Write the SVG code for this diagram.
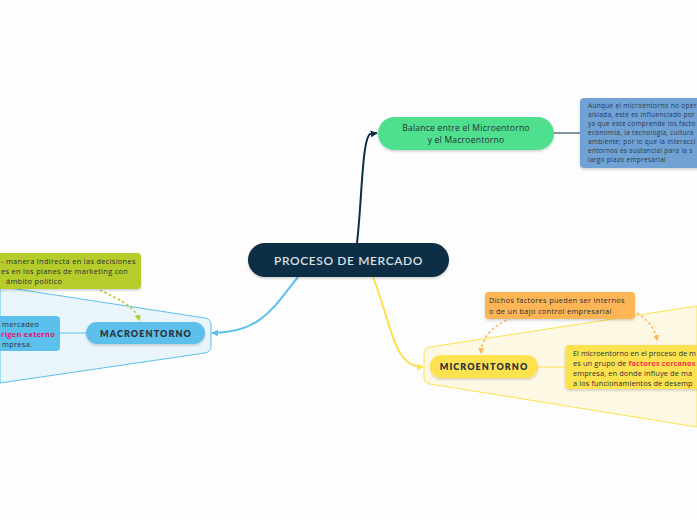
<svg xmlns="http://www.w3.org/2000/svg" width="697" height="520" viewBox="0 0 697 520">
<defs>
<style>
text{font-family:"Open Sans","Noto Sans","Liberation Sans",sans-serif;fill:#2a2f38}
.sm{font-size:7.4px;letter-spacing:0.32px}
.nt{font-size:7.4px;letter-spacing:0.12px}
.xs{font-size:6.5px;letter-spacing:0.3px;fill:#26384a}
.main{font-family:Lato,"Noto Sans",sans-serif;font-size:12px;fill:#d9e0e6;letter-spacing:0.6px;font-weight:600}
.tp{font-family:Lato,"Noto Sans",sans-serif;font-size:9px;font-weight:800;letter-spacing:1.1px;fill:#2d3440}
.mid{font-size:8.6px;letter-spacing:0.2px}
</style>
<filter id="sh" x="-10%" y="-20%" width="120%" height="150%">
<feDropShadow dx="0" dy="1.5" stdDeviation="1.2" flood-color="#000" flood-opacity="0.18"/>
</filter>
<marker id="mNavy" viewBox="0 0 10 10" refX="9" refY="5" markerUnits="userSpaceOnUse" markerWidth="7" markerHeight="7" orient="auto"><path d="M0,0 L10,5 L0,10 z" fill="#0b2e45"/></marker>
<marker id="mBlue" viewBox="0 0 10 10" refX="9" refY="5" markerUnits="userSpaceOnUse" markerWidth="7" markerHeight="7" orient="auto"><path d="M0,0 L10,5 L0,10 z" fill="#5bc0eb"/></marker>
<marker id="mYel" viewBox="0 0 10 10" refX="9" refY="5" markerUnits="userSpaceOnUse" markerWidth="7" markerHeight="7" orient="auto"><path d="M0,0 L10,5 L0,10 z" fill="#fde24f"/></marker>
<marker id="mLime" viewBox="0 0 10 10" refX="8" refY="5" markerUnits="userSpaceOnUse" markerWidth="6" markerHeight="6" orient="auto"><path d="M0,0 L10,5 L0,10 z" fill="#b5cc2a"/></marker>
<marker id="mOr" viewBox="0 0 10 10" refX="8" refY="5" markerUnits="userSpaceOnUse" markerWidth="6" markerHeight="6" orient="auto"><path d="M0,0 L10,5 L0,10 z" fill="#fdb557"/></marker>
</defs>
<rect width="697" height="520" fill="#fdfdfd"/>

<g id="boundaries">
<path d="M0,286.5 L205,318 Q211,319 211,325 L211,346 Q211,352 205,353 L0,383 Z" fill="#e9f5fb" stroke="#5bc0eb" stroke-width="1"/>
<path d="M697,306 L430,347 Q424,348 424,354 L424,377 Q424,383 430,384 L697,427 Z" fill="#fdf8e3" stroke="#fde24f" stroke-width="1"/>
</g>

<g id="connectors" fill="none">
<path d="M357,243 C 362,200 362,140 370,134 L377,133" stroke="#0b2e45" stroke-width="2" marker-end="url(#mNavy)"/>
<path d="M554,133 L580,133" stroke="#0b2e45" stroke-width="1"/>
<path d="M298,277 C 275,305 262,333 212,333" stroke="#5bc0eb" stroke-width="2" marker-end="url(#mBlue)"/>
<path d="M86,333 L60,333" stroke="#5bc0eb" stroke-width="1"/>
<path d="M373,277 C 392,325 393,367 423,367" stroke="#fde24f" stroke-width="2" marker-end="url(#mYel)"/>
<path d="M538,367 L565,367" stroke="#fde24f" stroke-width="1"/>
<path d="M100,290 C 115,298 135,305 139,320" stroke="#b5cc2a" stroke-width="1.6" stroke-dasharray="2.5,2.5" marker-end="url(#mLime)"/>
<path d="M511,318 C 495,325 482,335 481,353" stroke="#fdb557" stroke-width="1.6" stroke-dasharray="2.5,2.5" marker-end="url(#mOr)"/>
<path d="M637,313 C 648,320 655,328 657,340" stroke="#fdb557" stroke-width="1.6" stroke-dasharray="2.5,2.5" marker-end="url(#mOr)"/>
</g>

<g id="central">
<rect x="248" y="243" width="201" height="34" rx="17" fill="#0b2e45" filter="url(#sh)"/>
<text x="348.5" y="264.5" text-anchor="middle" class="main">PROCESO DE MERCADO</text>
</g>

<g id="balance">
<rect x="378" y="117" width="176" height="33" rx="16.5" fill="#4fe08f" filter="url(#sh)"/>
<text x="466" y="131" text-anchor="middle" class="mid">Balance entre el Microentorno</text>
<text x="466" y="143" text-anchor="middle" class="mid">y el Macroentorno</text>
</g>

<g id="balance-note">
<rect x="580" y="98" width="130" height="70" rx="4" fill="#6fa2d6" filter="url(#sh)"/>
<text class="xs" x="588" y="108">Aunque el microentorno no oper</text>
<text class="xs" x="588" y="117">aislada, este es influenciado por</text>
<text class="xs" x="588" y="126">ya que este comprende los facto</text>
<text class="xs" x="588" y="135">economía, la tecnología, cultura</text>
<text class="xs" x="588" y="144">ambiente; por lo que la interacci</text>
<text class="xs" x="588" y="153">entornos es sustancial para la s</text>
<text class="xs" x="588" y="162">largo plazo empresarial</text>
</g>

<g id="macro">
<rect x="86" y="322" width="119" height="22" rx="11" fill="#5bc0eb" filter="url(#sh)"/>
<text x="146" y="336.5" text-anchor="middle" class="tp">MACROENTORNO</text>
</g>

<g id="macro-note">
<rect x="-10" y="316" width="70" height="35" rx="4" fill="#5bc0eb"/>
<text class="sm" x="2" y="327">mercadeo</text>
<text class="sm" x="1" y="337" style="fill:#e3126e;font-weight:700">rigen externo</text>
<text class="sm" x="2" y="347">mpresa.</text>
</g>

<g id="macro-note2">
<rect x="-10" y="253" width="151" height="36" rx="4" fill="#b5cc2a" filter="url(#sh)"/>
<text class="sm" x="1" y="264">- manera indirecta en las decisiones</text>
<text class="sm" x="1" y="274">es en los planes de marketing con</text>
<text class="sm" x="6" y="284">ámbito político</text>
</g>

<g id="micro">
<rect x="430" y="355" width="108" height="23" rx="11.5" fill="#fde24f" filter="url(#sh)"/>
<text x="484" y="370" text-anchor="middle" class="tp">MICROENTORNO</text>
</g>

<g id="micro-note-orange">
<rect x="485" y="292" width="150" height="27" rx="4" fill="#fdb557" filter="url(#sh)"/>
<text class="sm" x="489" y="303">Dichos factores pueden ser internos</text>
<text class="sm" x="489" y="314">o de un bajo control empresarial</text>
</g>

<g id="micro-note">
<rect x="565" y="345" width="145" height="44" rx="4" fill="#fde24f" filter="url(#sh)"/>
<text class="nt" x="573" y="356" style="letter-spacing:0">El microentorno en el proceso de m</text>
<text class="nt" x="573" y="366">es un grupo de <tspan style="fill:#f0364f;font-weight:700">factores cercanos</tspan></text>
<text class="nt" x="573" y="376">empresa, en donde influye de ma</text>
<text class="nt" x="573" y="386">a los funcionamientos de desemp</text>
</g>
</svg>
